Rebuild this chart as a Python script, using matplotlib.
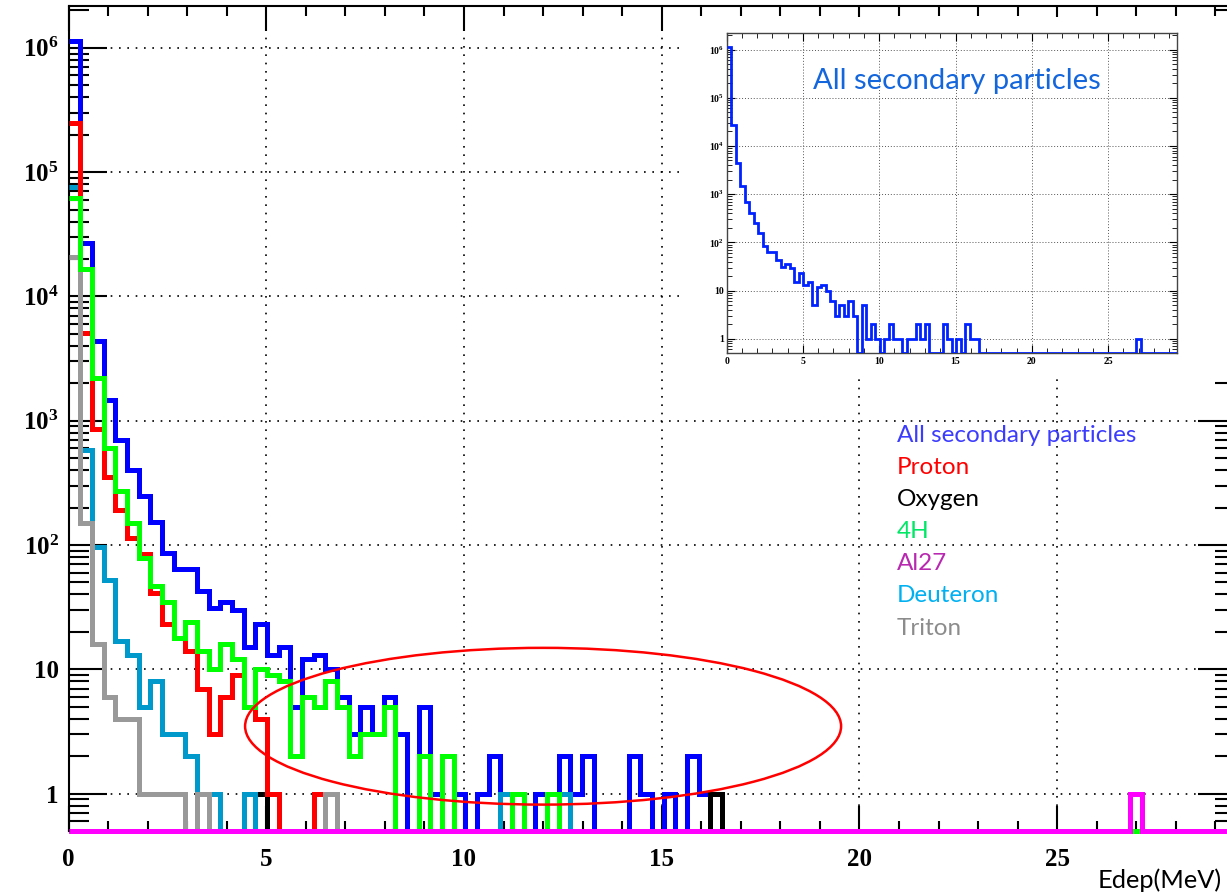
import numpy as np
import matplotlib
matplotlib.use("Agg")
import matplotlib.pyplot as plt
from matplotlib.patches import Ellipse, Rectangle
from matplotlib.ticker import FixedLocator, MultipleLocator, LogLocator, NullFormatter
from matplotlib.transforms import blended_transform_factory

##################
#### Data ####
##################
# 100 bins between 0 and 29.5 MeV; counts listed from the first bin,
# lone bins further out are given as {bin index: count}
nBins = 100
edepMax = 29.5

allCounts = [1.14e6, 27000, 4400, 1480, 700, 404, 248, 154, 86, 64,
             64, 43, 31, 35, 30, 15, 23, 13, 15, 5,
             12, 13, 10, 6, 3, 5, 3, 6, 3, 0,
             5, 1, 2, 1, 0, 1, 2, 1, 1, 0,
             1, 1, 2, 1, 2, 0, 0, 0, 2, 1,
             0, 1, 0, 2, 1, 1]
allExtra = {91: 1}

protonCounts = [2.47e5, 5100, 861, 354, 191, 113, 85, 41, 23, 18,
                14, 7, 3, 6, 9, 5, 4, 1, 0, 0,
                0, 1]
oxygenExtra = {16: 1, 55: 1}
h4Counts = [62100, 16500, 2200, 600, 270, 149, 78, 47, 35, 18,
            24, 14, 10, 16, 12, 5, 10, 9, 8, 2,
            6, 5, 8, 5, 2, 3, 3, 5, 0, 0,
            2, 0, 2, 0, 0, 0, 0, 0, 1, 0,
            0, 1]
al27Extra = {91: 1}
deuteronCounts = [76200, 580, 97, 52, 17, 13, 5, 8, 3, 3,
                  2, 1, 1, 0, 0, 1]
deuteronExtra = {37: 1, 42: 1}
tritonCounts = [20800, 150, 16, 6, 4, 4, 1, 1, 1, 1,
                0, 1]
tritonExtra = {22: 1}

legendNames = ["All secondary particles", "Proton", "Oxygen", "4H", "Al27", "Deuteron", "Triton"]
legendColors = ["#3c3cff", "#ff0000", "#000000", "#00e866", "#b828b0", "#00b0f0", "#8c8c8c"]


def hist(counts=(), extra=None):
    h = np.zeros(nBins)
    h[:len(counts)] = counts
    for k, v in (extra or {}).items():
        h[k] = v
    return h


edges = np.linspace(0, edepMax, nBins + 1)
yMin, yMax = 0.5, 2.17e6

# drawing order as in the original (last one on top)
series = [
    (hist(allCounts, allExtra), "#0000ff"),
    (hist(extra=oxygenExtra), "#000000"),
    (hist(deuteronCounts, deuteronExtra), "#0099cc"),
    (hist(protonCounts), "#ff0000"),
    (hist(tritonCounts, tritonExtra), "#999999"),
    (hist(h4Counts), "#00ff00"),
    (hist(extra=al27Extra), "#ff00ff"),
]

##################
#### Plotting ####
##################
plt.rcParams["font.family"] = ["Liberation Serif", "DejaVu Serif"]
plt.rcParams["font.weight"] = "bold"
plt.rcParams["mathtext.fontset"] = "custom"
plt.rcParams["mathtext.rm"] = "Liberation Serif:bold"
plt.rcParams["mathtext.it"] = "Liberation Serif:bold"
plt.rcParams["mathtext.bf"] = "Liberation Serif:bold"

W, H = 1227, 894
fig = plt.figure(figsize=(W / 100, H / 100), dpi=100)

decades = [1, 10, 100, 1e3, 1e4, 1e5, 1e6]
decadeLabels = ["1", "10", r"$10^{2}$", r"$10^{3}$", r"$10^{4}$", r"$10^{5}$", r"$10^{6}$"]
gridStyle = dict(color="k", linestyle=(0, (1, 4)), linewidth=1.2)


def style_axes(a, big):
    a.set_yscale("log")
    a.set_xlim(0, edepMax)
    a.set_ylim(yMin, yMax)
    a.yaxis.set_major_locator(FixedLocator(decades))
    a.set_yticklabels(decadeLabels)
    a.yaxis.set_minor_locator(LogLocator(base=10, subs=np.arange(2, 10), numticks=20))
    a.yaxis.set_minor_formatter(NullFormatter())
    a.xaxis.set_major_locator(MultipleLocator(5))
    a.xaxis.set_minor_locator(MultipleLocator(1))
    if big:
        a.tick_params(axis="y", which="major", direction="in", length=27, width=1.5,
                      left=True, right=True, labelsize=18, pad=7)
        a.tick_params(axis="y", which="minor", direction="in", length=14.5, width=1.5,
                      left=True, right=True)
        a.tick_params(axis="x", which="major", direction="in", length=18, width=1.5,
                      top=True, bottom=True, labelsize=18, pad=12)
        a.tick_params(axis="x", which="minor", direction="in", length=7.5, width=1.5,
                      top=True, bottom=True)
        for s in a.spines.values():
            s.set_linewidth(1.5)
        a.grid(True, which="major", **gridStyle)
    else:
        a.tick_params(axis="y", which="major", direction="in", length=6, width=0.8,
                      left=True, right=True, labelsize=7, pad=2)
        a.tick_params(axis="y", which="minor", direction="in", length=3.5, width=0.6,
                      left=True, right=True)
        a.tick_params(axis="x", which="major", direction="in", length=6, width=0.8,
                      top=True, bottom=True, labelsize=7, pad=3)
        a.tick_params(axis="x", which="minor", direction="in", length=3.5, width=0.6,
                      top=True, bottom=True)
        for s in a.spines.values():
            s.set_linewidth(1.0)
            s.set_color("#444444")
        a.grid(True, which="major", color="#555555", linestyle=(0, (1, 2)), linewidth=0.7)
    a.set_axisbelow(True)


#### Main histogram
ax = fig.add_axes([68.5 / W, 63 / H, 1166.7 / W, 825 / H])
style_axes(ax, True)
for h, c in series:
    ax.stairs(np.where(h > 0, h, yMin), edges, baseline=None, color=c, linewidth=3.6,
              joinstyle="miter", clip_on=False, zorder=3)

# red ellipse marking the high energy tail (x in MeV, y in axes fraction)
tr = blended_transform_factory(ax.transData, ax.transAxes)
ax.add_patch(Ellipse((12.0, 0.127), 15.07, 0.19, transform=tr, fill=False,
                     edgecolor="red", linewidth=1.8, zorder=4))

# legend as coloured text lines
for i, (name, col) in enumerate(zip(legendNames, legendColors)):
    fig.text(897 / W, 1 - (435 + 32.2 * i) / H, name, color=col, fontsize=17.5,
             family="Lato", weight="normal", va="center", ha="left")

fig.text(1222 / W, 1 - 880 / H, "Edep(MeV)", fontsize=18.3, family="Lato",
         weight="normal", ha="right", va="center")

#### Inset with all secondary particles
fig.add_artist(Rectangle((683 / W, 1 - 377 / H), 544 / W, 360 / H, transform=fig.transFigure,
                         facecolor="white", edgecolor="none", zorder=1))
axIn = fig.add_axes([726.7 / W, 1 - 353.3 / H, 450 / W, 320 / H], zorder=2)
style_axes(axIn, False)
axIn.stairs(np.where(series[0][0] > 0, series[0][0], yMin), edges, baseline=None,
            color="#0022ff", linewidth=2.0, joinstyle="miter", zorder=3)
fig.text(813 / W, 1 - 81 / H, "All secondary particles", color="#1466dc", fontsize=21,
         family="Lato", weight="normal", ha="left", va="center", zorder=5)

fig.savefig("out.png", dpi=100)
